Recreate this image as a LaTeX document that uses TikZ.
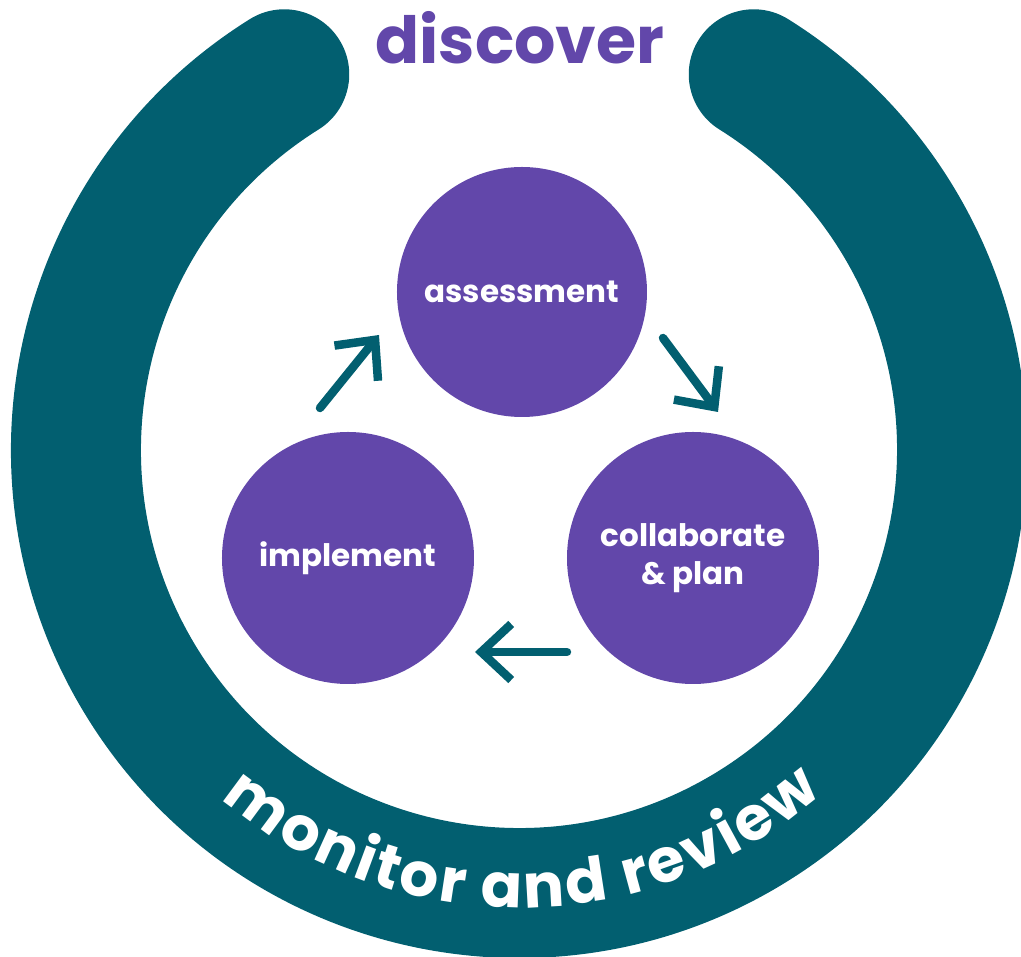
\documentclass[tikz,border=0pt]{standalone}
\usepackage{fontspec}
\setmainfont{Poppins}
\usetikzlibrary{arrows.meta,decorations.text}
\definecolor{ringteal}{HTML}{025F70}
\definecolor{stagepurple}{HTML}{6247AA}
\newcommand\curvefont{\fontsize{61}{61}\selectfont\bfseries}
\tikzset{
  stage/.style={circle, fill=stagepurple, minimum size=252pt, inner sep=0pt, text=white,
    font=\fontsize{31}{38}\selectfont\bfseries, align=center},
  flow/.style={ringteal, line width=8.5pt, line cap=round,
    -{Straight Barb[length=30pt,width=56pt,line cap=butt,line join=miter]}},
}
\begin{document}
\begin{tikzpicture}[x=1pt,y=1pt]
\useasboundingbox (-519,-507) rectangle (502,450);
% ring
\draw[ringteal, line width=130pt, line cap=round] (122:443) arc[start angle=122, end angle=418, radius=443];
% curved label
\path[decorate, decoration={text along path, text align=fit to path, text color=white,
  text={|\curvefont|monitor and review}}]
  (229.5:458) arc[start angle=229.5, end angle=311.5, radius=458];
% title
\node[text=stagepurple, font=\fontsize{65}{65}\selectfont\bfseries, anchor=base] (title) at (1,386) {discover};
% stages
\node[stage, minimum size=250pt] (assess) at (3,158) {assessment};
\node[stage] (collab) at (174,-108) {collaborate\\\& plan};
\node[stage] (impl) at (-171,-108) {implement};
% arrows
\coordinate (a1s) at (-199,42);
\coordinate (a1e) at (-140,115);
\coordinate (a2s) at (144,112);
\coordinate (a2e) at (199,38);
\coordinate (a3s) at (48,-202);
\coordinate (a3e) at (-44,-202);
\draw[flow] (a1s) -- (a1e);
\draw[flow] (a2s) -- (a2e);
\draw[flow] (a3s) -- (a3e);
\end{tikzpicture}
\end{document}
